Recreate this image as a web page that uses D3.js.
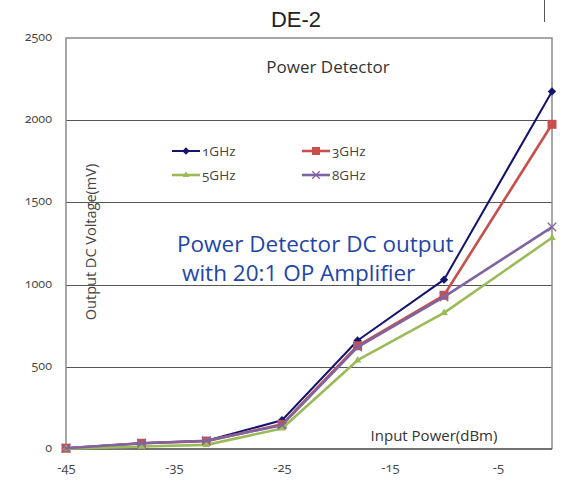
<!DOCTYPE html>
<html>
<head>
<meta charset="utf-8">
<script src="https://cdn.jsdelivr.net/npm/d3@7"></script>
<style>
  body { margin: 0; background: #fff; }
  svg text { font-family: "Open Sans", "Noto Sans", sans-serif; }
  .num { font-variant-numeric: oldstyle-nums; font-feature-settings: "onum" 1; }
</style>
</head>
<body>
<div id="chart"></div>
<script>
!(function(){
    "use strict"

    var width = 571, height = 491;

    // input power (dBm) at each measured point
    var power = [-45, -38, -32, -25, -18, -10, 0];
    var series = ["1GHz", "3GHz", "5GHz", "8GHz"];
    var v1GHz = [5, 35, 50, 175, 660, 1030, 2175];
    var v3GHz = [5, 35, 48, 150, 628, 935, 1975];
    var v5GHz = [2, 15, 25, 125, 540, 828, 1285];
    var v8GHz = [5, 35, 50, 145, 620, 925, 1350];
    var yTicks = [0, 500, 1000, 1500, 2000, 2500];
    var xTicks = [-45, -35, -25, -15, -5];

    var values = { "1GHz": v1GHz, "3GHz": v3GHz, "5GHz": v5GHz, "8GHz": v8GHz };
    var colors = { "1GHz": "#14146e", "3GHz": "#c8504c", "5GHz": "#9bbb59", "8GHz": "#8064a2" };
    var widths = { "1GHz": 2, "3GHz": 2.6, "5GHz": 2.6, "8GHz": 2.6 };

    var margin = { left: 66, right: 19, top: 38, bottom: 42 };

    var x = d3.scaleLinear().domain([-45, 0]).range([margin.left, width - margin.right]);
    var y = d3.scaleLinear().domain([0, 2500]).range([height - margin.bottom, margin.top]);

    var svg = d3.select("#chart").append("svg")
        .attr("width", width)
        .attr("height", height);

    // title
    svg.append("text")
        .attr("x", 296).attr("y", 27)
        .attr("text-anchor", "middle")
        .style("font-family", "'Liberation Sans', Arial, sans-serif")
        .style("font-size", "22px")
        .attr("fill", "#222")
        .text("DE-2");

    // stray mark at top right
    svg.append("line")
        .attr("x1", 544.5).attr("x2", 544.5)
        .attr("y1", 0).attr("y2", 22)
        .attr("stroke", "#555").attr("stroke-width", 1);

    // gridlines
    svg.append("g").selectAll("line")
        .data(yTicks.filter(function(d){ return d > 0 && d < 2500; }))
        .enter().append("line")
        .attr("x1", x(-45)).attr("x2", x(0))
        .attr("y1", function(d){ return Math.round(y(d)) + 0.5; })
        .attr("y2", function(d){ return Math.round(y(d)) + 0.5; })
        .attr("stroke", "#555").attr("stroke-width", 1.2);

    // frame
    svg.append("path")
        .attr("d", "M" + x(-45) + "," + y(0) + "V" + y(2500) + "H" + x(0) + "V" + y(0))
        .attr("fill", "none").attr("stroke", "#8a8a8a").attr("stroke-width", 1.5);
    svg.append("line")
        .attr("x1", x(-45)).attr("x2", x(0))
        .attr("y1", y(0)).attr("y2", y(0))
        .attr("stroke", "#444").attr("stroke-width", 1.3);

    // axes (labels only)
    var yAxis = d3.axisLeft(y).tickValues(yTicks).tickSize(0).tickPadding(14)
        .tickFormat(d3.format("d"));
    var gy = svg.append("g").attr("transform", "translate(" + x(-45) + ",0)").call(yAxis);
    gy.select(".domain").remove();
    gy.selectAll("text").attr("class", "num")
        .style("font-size", "12.5px").attr("fill", "#444").attr("dy", "0.2em");

    var xAxis = d3.axisBottom(x).tickValues(xTicks).tickSize(0).tickPadding(14)
        .tickFormat(function(d){ return d; });
    var gx = svg.append("g").attr("transform", "translate(0," + y(0) + ")").call(xAxis);
    gx.select(".domain").remove();
    gx.selectAll("text").attr("class", "num")
        .style("font-size", "13px").attr("fill", "#444");

    // inner labels
    svg.append("text")
        .attr("x", 328).attr("y", 73)
        .attr("text-anchor", "middle")
        .style("font-size", "17px").attr("fill", "#333")
        .text("Power Detector");

    svg.append("text")
        .attr("transform", "translate(96,242) rotate(-90)")
        .attr("text-anchor", "middle")
        .style("font-size", "14.5px").attr("fill", "#444")
        .text("Output DC Voltage(mV)");

    svg.append("text")
        .attr("x", 434).attr("y", 441)
        .attr("text-anchor", "middle")
        .style("font-size", "15px").attr("fill", "#333")
        .text("Input Power(dBm)");

    // lines
    var line = d3.line()
        .x(function(d, i){ return x(power[i]); })
        .y(function(d){ return y(d); });

    function marker(sel, name, size) {
        var c = colors[name];
        if (name === "1GHz") {
            sel.append("path").attr("d", d3.symbol(d3.symbolDiamond2, size * size * 0.55)())
                .attr("fill", c);
        } else if (name === "3GHz") {
            sel.append("rect").attr("x", -size/2).attr("y", -size/2)
                .attr("width", size).attr("height", size).attr("fill", c);
        } else if (name === "5GHz") {
            sel.append("path").attr("d", d3.symbol(d3.symbolTriangle2, size * size * 0.5)())
                .attr("fill", c);
        } else {
            sel.append("path").attr("d", d3.symbol(d3.symbolTimes, size * size * 0.6)())
                .attr("fill", "none").attr("stroke", c).attr("stroke-width", 1.3);
        }
    }

    series.forEach(function(name){
        var g = svg.append("g");
        g.append("path")
            .datum(values[name])
            .attr("d", line)
            .attr("fill", "none")
            .attr("stroke", colors[name])
            .attr("stroke-width", widths[name])
            .attr("stroke-linejoin", "round");
        g.selectAll("g.pt")
            .data(values[name])
            .enter().append("g")
            .attr("class", "pt")
            .attr("transform", function(d, i){ return "translate(" + x(power[i]) + "," + y(d) + ")"; })
            .each(function(){ marker(d3.select(this), name, 9); });
    });

    // legend
    var legendPos = [
        { name: "1GHz", x: 172, y: 151 },
        { name: "3GHz", x: 302, y: 151 },
        { name: "5GHz", x: 172, y: 175 },
        { name: "8GHz", x: 302, y: 175 }
    ];
    legendPos.forEach(function(p){
        var g = svg.append("g").attr("transform", "translate(" + p.x + "," + p.y + ")");
        g.append("line").attr("x1", 0).attr("x2", 28).attr("y1", 0).attr("y2", 0)
            .attr("stroke", colors[p.name]).attr("stroke-width", widths[p.name]);
        var m = g.append("g").attr("transform", "translate(14,0)");
        marker(m, p.name, 8);
        g.append("text").attr("class", "num")
            .attr("x", 30).attr("y", 5)
            .style("font-size", "13.5px").attr("fill", "#444")
            .text(p.name);
    });

    // annotation
    var note = svg.append("text")
        .style("font-size", "22.5px").attr("fill", "#1f45a8");
    note.append("tspan").attr("x", 177).attr("y", 252).text("Power Detector DC output");
    note.append("tspan").attr("x", 182).attr("y", 281).text("with 20:1 OP Amplifier");

}());
</script>
</body>
</html>
